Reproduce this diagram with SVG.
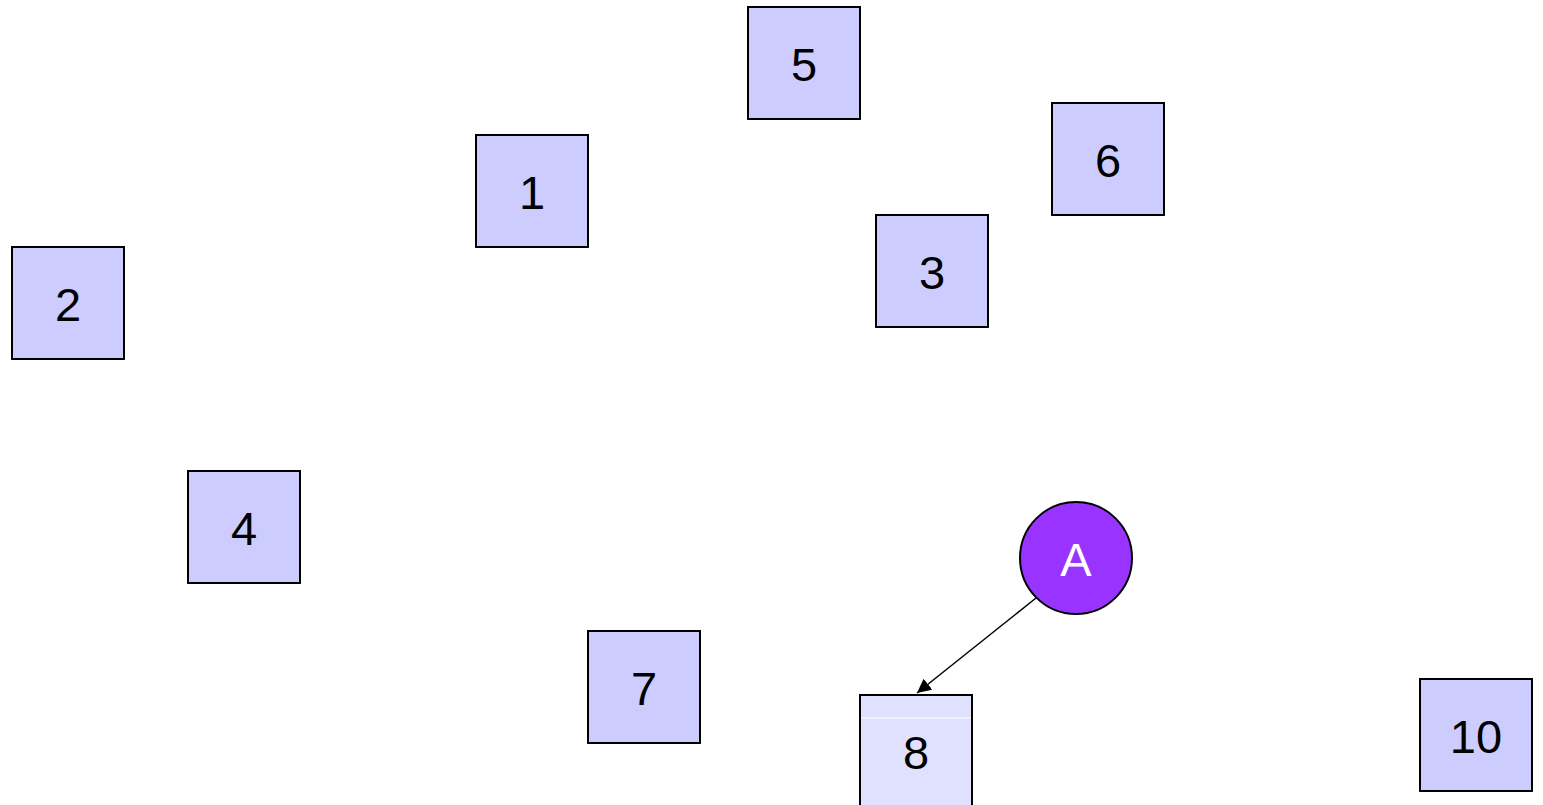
<svg xmlns="http://www.w3.org/2000/svg" width="1543" height="805" viewBox="0 0 1543 805">
<style>
.box{fill:#ccccff;stroke:#000;stroke-width:2}
.lbl{font-family:"Liberation Sans",Arial,sans-serif;font-size:47px;text-anchor:middle;fill:#000}
</style>
<defs>
<marker id="ah" viewBox="0 0 10 10" refX="10" refY="5" markerWidth="14" markerHeight="14" markerUnits="userSpaceOnUse" orient="auto">
<path d="M0,0 L10,5 L0,10 z" fill="#000"/>
</marker>
</defs>
<rect width="1543" height="805" fill="#fff"/>
<g id="connectors">
<line x1="1036" y1="598" x2="917" y2="693" stroke="#000" stroke-width="1.5" marker-end="url(#ah)"/>
</g>
<g id="n5"><rect class="box" x="748" y="7" width="112" height="112"/><text class="lbl" x="804" y="81">5</text></g>
<g id="n1"><rect class="box" x="476" y="135" width="112" height="112"/><text class="lbl" x="532" y="209">1</text></g>
<g id="n6"><rect class="box" x="1052" y="103" width="112" height="112"/><text class="lbl" x="1108" y="177">6</text></g>
<g id="n3"><rect class="box" x="876" y="215" width="112" height="112"/><text class="lbl" x="932" y="289">3</text></g>
<g id="n2"><rect class="box" x="12" y="247" width="112" height="112"/><text class="lbl" x="68" y="321">2</text></g>
<g id="n4"><rect class="box" x="188" y="471" width="112" height="112"/><text class="lbl" x="244" y="545">4</text></g>
<g id="n7"><rect class="box" x="588" y="631" width="112" height="112"/><text class="lbl" x="644" y="705">7</text></g>
<g id="n10"><rect class="box" x="1420" y="679" width="112" height="112"/><text class="lbl" x="1476" y="753">10</text></g>
<g id="n8"><rect x="860" y="695" width="112" height="120" fill="#e0e0ff" stroke="#000" stroke-width="2"/><line x1="861" y1="718" x2="971" y2="718" stroke="#fff" stroke-width="1"/><text class="lbl" x="916" y="769">8</text></g>
<g id="nA"><circle cx="1076" cy="558" r="56" fill="#9933ff" stroke="#000" stroke-width="2"/><text class="lbl" x="1076" y="576" style="fill:#fff">A</text></g>
</svg>
